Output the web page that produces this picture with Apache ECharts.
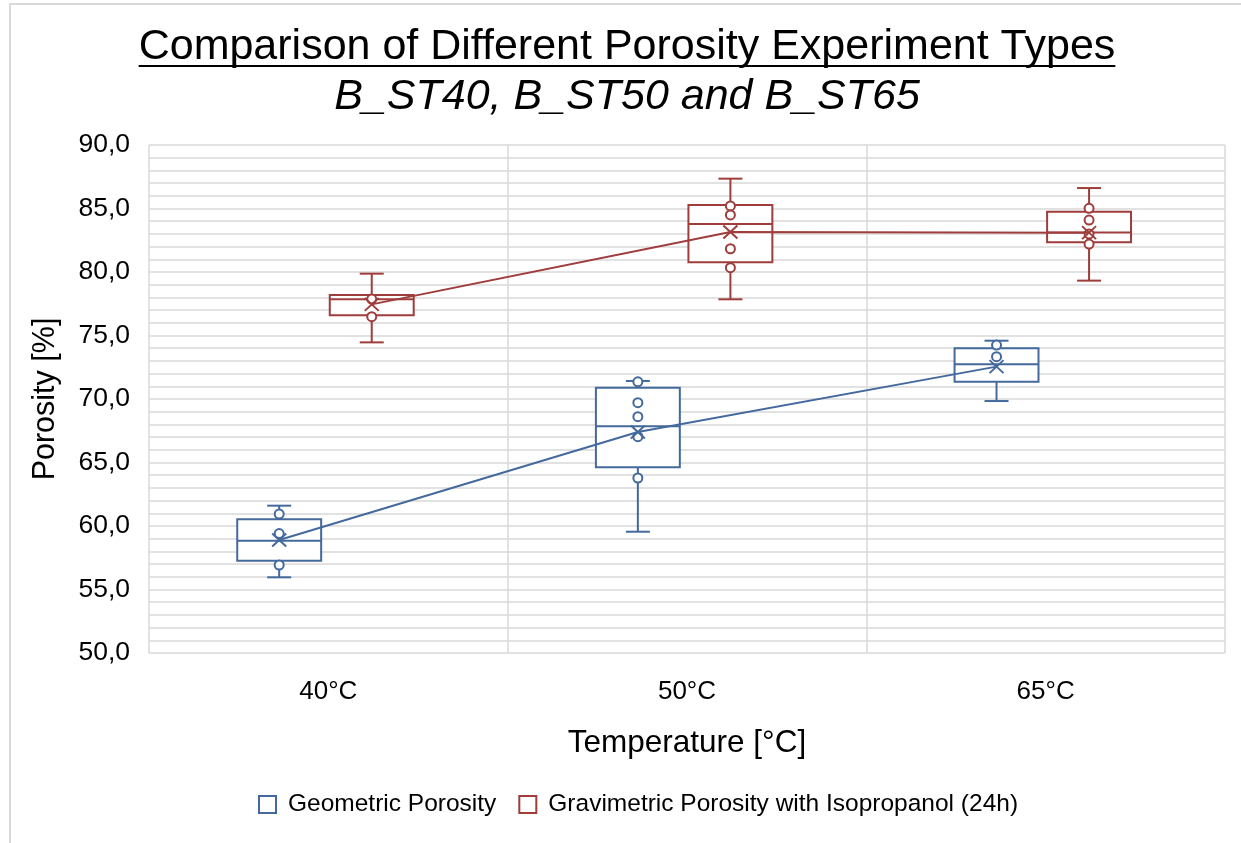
<!DOCTYPE html>
<html>
<head>
<meta charset="utf-8">
<script src="https://cdn.jsdelivr.net/npm/echarts@6/dist/echarts.min.js"></script>
<style>
  html, body { margin: 0; padding: 0; background: #fff; }
  #chart { width: 1241px; height: 843px; }
</style>
</head>
<body>
<div id="chart"></div>
<script>
// Temperature groups on the x axis
const categories = ['40°C', '50°C', '65°C'];

// Geometric porosity: [min, Q1, median, Q3, max] per temperature
const geoBox = [
  [55.96, 57.27, 58.84, 60.53, 61.60],
  [59.55, 64.62, 67.85, 70.89, 71.42],
  [69.84, 71.36, 72.73, 73.99, 74.59]
];
const geoMean = [58.90, 67.40, 72.55];
const geoPoints = [
  [60.94, 59.40, 56.93],
  [71.35, 69.71, 68.61, 67.03, 63.78],
  [74.25, 73.33]
];

// Gravimetric porosity with isopropanol (24h)
const gravBox = [
  [74.46, 76.59, 77.85, 78.19, 79.87],
  [77.85, 80.76, 83.78, 85.28, 87.35],
  [79.32, 82.34, 83.12, 84.75, 86.61]
];
const gravMean = [77.45, 83.15, 83.10];
const gravPoints = [
  [77.87, 76.48],
  [85.20, 84.49, 81.83, 80.34],
  [85.01, 84.09, 83.00, 82.20]
];

const yTicks = { min: 50, max: 90, step: 5 };

const BLUE = '#44699D';
const RED = '#9E3D3B';
const FONT = '"Liberation Sans", Arial, sans-serif';

// Horizontal placement of each series inside a category band (in category units)
const OFFSET_GEO = -0.137;
const OFFSET_GRAV = 0.121;
const BOX_W = 0.234;
const CAP_PX = 24;

function boxRenderer(boxes, means, points, offset, color) {
  return function (params, api) {
    const i = api.value(0);
    const b = boxes[i];
    const x = i + offset;
    const c = (v) => api.coord([x, v]);
    const w = api.size([BOX_W, 0])[0];
    const pMin = c(b[0]), pQ1 = c(b[1]), pMed = c(b[2]), pQ3 = c(b[3]), pMax = c(b[4]);
    const cx = pMin[0];
    const stroke = { stroke: color, lineWidth: 2, fill: null };
    const kids = [];
    // whiskers
    kids.push({ type: 'line', shape: { x1: cx, y1: pMax[1], x2: cx, y2: pQ3[1] }, style: stroke });
    kids.push({ type: 'line', shape: { x1: cx, y1: pQ1[1], x2: cx, y2: pMin[1] }, style: stroke });
    kids.push({ type: 'line', shape: { x1: cx - CAP_PX / 2, y1: pMax[1], x2: cx + CAP_PX / 2, y2: pMax[1] }, style: stroke });
    kids.push({ type: 'line', shape: { x1: cx - CAP_PX / 2, y1: pMin[1], x2: cx + CAP_PX / 2, y2: pMin[1] }, style: stroke });
    // box with white fill
    kids.push({ type: 'rect', shape: { x: cx - w / 2, y: pQ3[1], width: w, height: pQ1[1] - pQ3[1] },
      style: { stroke: color, lineWidth: 2, fill: '#fff' } });
    // median
    kids.push({ type: 'line', shape: { x1: cx - w / 2, y1: pMed[1], x2: cx + w / 2, y2: pMed[1] }, style: stroke });
    // inner points
    points[i].forEach(function (v) {
      const p = c(v);
      kids.push({ type: 'circle', shape: { cx: cx, cy: p[1], r: 4.5 }, style: { stroke: color, lineWidth: 2, fill: '#fff' } });
    });
    // mean marker (x)
    const m = c(means[i]);
    const s = 7, t = 6.5;
    kids.push({ type: 'line', shape: { x1: cx - s, y1: m[1] - t, x2: cx + s, y2: m[1] + t }, style: stroke });
    kids.push({ type: 'line', shape: { x1: cx - s, y1: m[1] + t, x2: cx + s, y2: m[1] - t }, style: stroke });
    return { type: 'group', children: kids };
  };
}

const chart = echarts.init(document.getElementById('chart'), null, { renderer: 'canvas' });

// measure the title so the underline fits it
const titleText = 'Comparison of Different Porosity Experiment Types';
const titleFont = '43px ' + FONT;
const mctx = document.createElement('canvas').getContext('2d');
mctx.font = titleFont;
const titleW = mctx.measureText(titleText).width;
const TITLE_CX = 627;

const option = {
  backgroundColor: '#fff',
  animation: false,
  textStyle: { fontFamily: FONT },
  grid: { left: 149, right: 16, top: 145, bottom: 190 },
  legend: {
    top: 787,
    left: 253,
    itemWidth: 17,
    itemHeight: 17,
    itemGap: 22,
    textStyle: { fontSize: 24.5, color: '#000', fontFamily: FONT, padding: [0, 0, 0, 7] },
    data: [
      { name: 'Geometric Porosity', icon: 'rect', itemStyle: { color: '#fff', borderColor: BLUE, borderWidth: 2 } },
      { name: 'Gravimetric Porosity with Isopropanol (24h)', icon: 'rect', itemStyle: { color: '#fff', borderColor: RED, borderWidth: 2 } }
    ]
  },
  xAxis: [
    {
      type: 'category',
      data: categories,
      boundaryGap: true,
      name: 'Temperature [°C]',
      nameLocation: 'middle',
      nameGap: 74,
      nameTextStyle: { fontSize: 31.5, color: '#000', fontFamily: FONT },
      axisLine: { show: false },
      axisTick: { show: false },
      axisLabel: { fontSize: 26, color: '#000', margin: 26, fontFamily: FONT },
      splitLine: { show: true, lineStyle: { color: '#d9d9d9', width: 1.5 } }
    },
    {
      type: 'value',
      min: -0.5,
      max: 2.5,
      show: false
    }
  ],
  yAxis: {
    type: 'value',
    min: yTicks.min,
    max: yTicks.max,
    interval: yTicks.step,
    name: 'Porosity [%]',
    nameLocation: 'middle',
    nameGap: 88,
    nameTextStyle: { fontSize: 30.5, color: '#000', fontFamily: FONT },
    axisLine: { show: false },
    axisTick: { show: false },
    axisLabel: {
      fontSize: 26.5, color: '#000', margin: 19, fontFamily: FONT,
      formatter: (v) => v.toFixed(1).replace('.', ',')
    },
    splitLine: { show: true, lineStyle: { color: '#d9d9d9', width: 1.5 } },
    minorTick: { show: false, splitNumber: 5 },
    minorSplitLine: { show: true, lineStyle: { color: '#d9d9d9', width: 1.5 } }
  },
  series: [
    {
      name: 'Geometric Porosity',
      type: 'custom',
      xAxisIndex: 1,
      data: geoBox.map((b, i) => [i, b[4]]),
      encode: { x: 0, y: 1 },
      renderItem: boxRenderer(geoBox, geoMean, geoPoints, OFFSET_GEO, BLUE),
      itemStyle: { color: BLUE },
      z: 3
    },
    {
      name: 'Gravimetric Porosity with Isopropanol (24h)',
      type: 'custom',
      xAxisIndex: 1,
      data: gravBox.map((b, i) => [i, b[4]]),
      encode: { x: 0, y: 1 },
      renderItem: boxRenderer(gravBox, gravMean, gravPoints, OFFSET_GRAV, RED),
      itemStyle: { color: RED },
      z: 3
    },
    {
      name: 'Geometric Porosity',
      type: 'line',
      xAxisIndex: 1,
      data: geoMean.map((m, i) => [i + OFFSET_GEO, m]),
      symbol: 'none',
      lineStyle: { color: BLUE, width: 2 },
      z: 4
    },
    {
      name: 'Gravimetric Porosity with Isopropanol (24h)',
      type: 'line',
      xAxisIndex: 1,
      data: gravMean.map((m, i) => [i + OFFSET_GRAV, m]),
      symbol: 'none',
      lineStyle: { color: RED, width: 2 },
      z: 4
    }
  ],
  graphic: [
    {
      type: 'rect', silent: true, z: -1,
      shape: { x: 10, y: 4, width: 1300, height: 900 },
      style: { fill: null, stroke: '#d9d9d9', lineWidth: 2 }
    },
    {
      type: 'text', silent: true,
      x: TITLE_CX, y: 47,
      style: { text: titleText, font: titleFont, fill: '#000', align: 'center', verticalAlign: 'middle', textAlign: 'center', textVerticalAlign: 'middle' }
    },
    {
      type: 'line', silent: true,
      shape: { x1: TITLE_CX - titleW / 2, y1: 66, x2: TITLE_CX + titleW / 2, y2: 66 },
      style: { stroke: '#000', lineWidth: 2 }
    },
    {
      type: 'text', silent: true,
      x: TITLE_CX, y: 97,
      style: { text: 'B_ST40, B_ST50 and B_ST65', font: 'italic 43px ' + FONT, fill: '#000', align: 'center', verticalAlign: 'middle', textAlign: 'center', textVerticalAlign: 'middle' }
    }
  ]
};

chart.setOption(option);
</script>
</body>
</html>
